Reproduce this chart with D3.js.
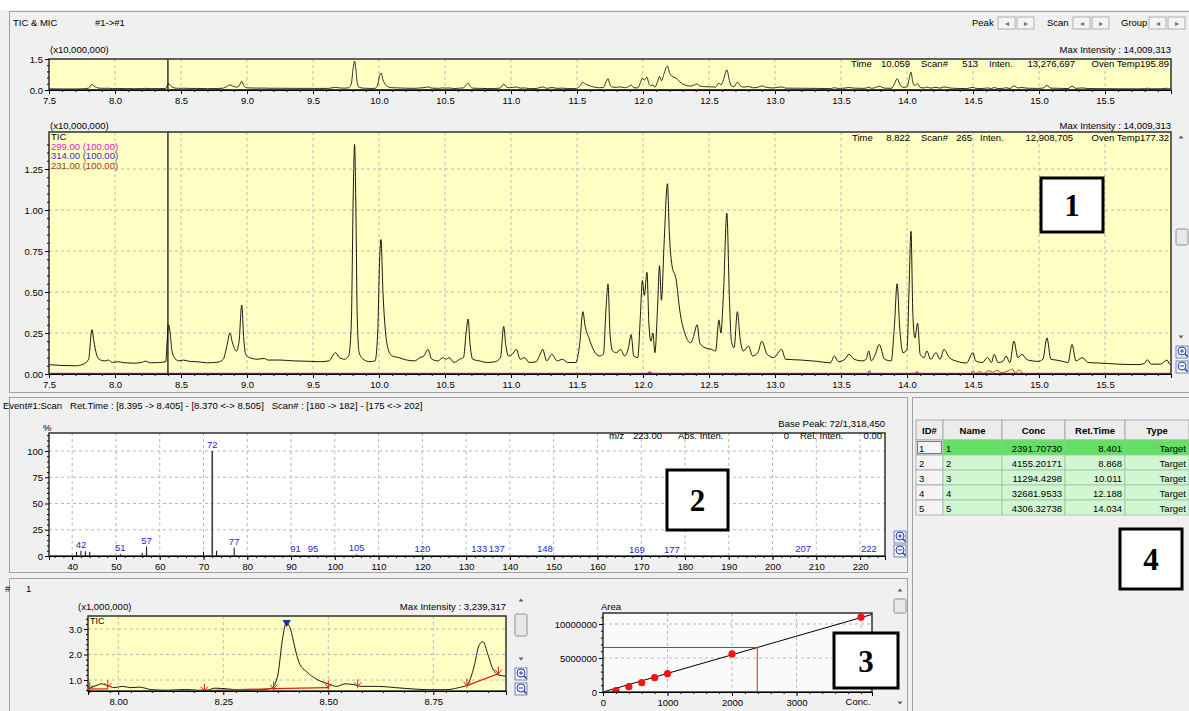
<!DOCTYPE html>
<html>
<head>
<meta charset="utf-8">
<script src="https://cdn.jsdelivr.net/npm/d3@7"></script>
<style>
  body { margin: 0; background: #fff; }
  text { font-family: "Liberation Sans", Arial, sans-serif; }
</style>
</head>
<body>
<div id="graph"></div>
<script>
// ---- chromatogram data (time in min, intensity x10,000,000) ----
var ticTrace = [[7.50,0.057],[7.60,0.052],[7.70,0.050],[7.76,0.060],[7.80,0.09],[7.825,0.27],[7.84,0.20],[7.86,0.12],[7.88,0.09],[7.92,0.08],[7.95,0.085],[7.98,0.07],[8.02,0.075],[8.08,0.068],[8.15,0.066],[8.20,0.07],[8.23,0.078],[8.27,0.068],[8.33,0.07],[8.385,0.075],[8.395,0.20],[8.405,0.30],[8.415,0.27],[8.43,0.15],[8.45,0.10],[8.48,0.08],[8.52,0.085],[8.57,0.076],[8.62,0.075],[8.70,0.068],[8.78,0.072],[8.82,0.09],[8.85,0.18],[8.87,0.25],[8.89,0.19],[8.92,0.14],[8.94,0.20],[8.96,0.42],[8.975,0.22],[8.99,0.12],[9.02,0.10],[9.08,0.09],[9.13,0.095],[9.16,0.085],[9.25,0.085],[9.35,0.08],[9.45,0.078],[9.55,0.075],[9.62,0.08],[9.67,0.13],[9.70,0.10],[9.74,0.09],[9.77,0.11],[9.79,0.30],[9.805,1.10],[9.815,1.40],[9.825,1.00],[9.835,0.35],[9.85,0.13],[9.88,0.09],[9.93,0.075],[9.97,0.08],[9.99,0.25],[10.005,0.70],[10.015,0.82],[10.03,0.50],[10.05,0.25],[10.07,0.15],[10.10,0.11],[10.15,0.10],[10.20,0.087],[10.27,0.08],[10.31,0.10],[10.34,0.11],[10.37,0.15],[10.40,0.09],[10.45,0.08],[10.48,0.10],[10.51,0.09],[10.53,0.10],[10.57,0.07],[10.61,0.09],[10.64,0.10],[10.66,0.25],[10.675,0.335],[10.69,0.18],[10.71,0.09],[10.76,0.08],[10.82,0.07],[10.88,0.075],[10.92,0.10],[10.945,0.29],[10.96,0.18],[10.98,0.11],[11.01,0.12],[11.04,0.15],[11.07,0.09],[11.10,0.10],[11.14,0.07],[11.19,0.075],[11.22,0.12],[11.24,0.15],[11.27,0.08],[11.31,0.12],[11.35,0.08],[11.39,0.09],[11.43,0.07],[11.49,0.07],[11.52,0.18],[11.545,0.38],[11.56,0.30],[11.59,0.22],[11.63,0.14],[11.67,0.11],[11.70,0.12],[11.72,0.40],[11.735,0.55],[11.75,0.25],[11.77,0.14],[11.80,0.13],[11.83,0.15],[11.86,0.11],[11.89,0.16],[11.91,0.24],[11.93,0.11],[11.96,0.10],[11.98,0.35],[11.995,0.57],[12.01,0.48],[12.03,0.62],[12.045,0.30],[12.06,0.20],[12.075,0.25],[12.09,0.13],[12.11,0.40],[12.125,0.66],[12.14,0.45],[12.16,0.80],[12.185,1.16],[12.20,0.85],[12.22,0.66],[12.25,0.58],[12.28,0.38],[12.32,0.24],[12.36,0.19],[12.38,0.22],[12.41,0.30],[12.43,0.19],[12.47,0.16],[12.52,0.15],[12.55,0.14],[12.575,0.33],[12.59,0.25],[12.61,0.50],[12.635,0.98],[12.655,0.45],[12.67,0.20],[12.69,0.16],[12.715,0.38],[12.735,0.22],[12.76,0.14],[12.80,0.17],[12.83,0.11],[12.87,0.13],[12.90,0.20],[12.94,0.12],[12.99,0.10],[13.05,0.15],[13.08,0.09],[13.20,0.085],[13.32,0.077],[13.42,0.068],[13.45,0.11],[13.48,0.075],[13.53,0.09],[13.56,0.12],[13.60,0.09],[13.66,0.08],[13.69,0.09],[13.71,0.14],[13.73,0.08],[13.76,0.12],[13.79,0.18],[13.83,0.09],[13.88,0.08],[13.905,0.30],[13.925,0.55],[13.945,0.28],[13.97,0.13],[14.00,0.15],[14.015,0.50],[14.03,0.87],[14.045,0.35],[14.06,0.22],[14.08,0.31],[14.10,0.12],[14.13,0.10],[14.15,0.14],[14.18,0.09],[14.22,0.13],[14.25,0.09],[14.28,0.15],[14.32,0.10],[14.38,0.077],[14.45,0.067],[14.50,0.13],[14.52,0.08],[14.57,0.07],[14.61,0.10],[14.64,0.07],[14.66,0.12],[14.69,0.07],[14.73,0.08],[14.75,0.11],[14.78,0.07],[14.81,0.20],[14.84,0.10],[14.87,0.12],[14.91,0.087],[14.95,0.08],[14.99,0.077],[15.03,0.09],[15.06,0.22],[15.09,0.09],[15.13,0.085],[15.18,0.077],[15.22,0.07],[15.25,0.18],[15.28,0.08],[15.33,0.10],[15.37,0.07],[15.45,0.067],[15.60,0.06],[15.75,0.057],[15.80,0.065],[15.82,0.087],[15.85,0.06],[15.92,0.06],[15.97,0.085],[15.99,0.06],[16.0,0.058]];
var mic299 = [[7.5,0.003],[12.03,0.003],[12.05,0.012],[12.07,0.003],[14.06,0.003],[14.075,0.012],[14.09,0.003],[16.0,0.003]];
var mic314 = [[7.5,0.001],[13.70,0.001],[13.715,0.02],[13.73,0.001],[16.0,0.001]];
var mic231 = [[7.5,0.002],[14.48,0.002],[14.50,0.02],[14.52,0.002],[14.55,0.015],[14.58,0.003],[14.62,0.02],[14.65,0.01],[14.68,0.022],[14.72,0.008],[14.77,0.02],[14.80,0.03],[14.82,0.005],[14.85,0.025],[14.88,0.003],[16.0,0.002]];
var legendNames = ["TIC", "299.00 (100.00)", "314.00 (100.00)", "231.00 (100.00)"];
var legendColors = ["#000000", "#e020d0", "#3030c0", "#a04010"];
var rtTicks = [7.5, 8.0, 8.5, 9.0, 9.5, 10.0, 10.5, 11.0, 11.5, 12.0, 12.5, 13.0, 13.5, 14.0, 14.5, 15.0, 15.5];
var mainYTicks = [0, 0.25, 0.5, 0.75, 1.0, 1.25];
var cursorTime = 8.401;

// ---- mass spectrum ----
var specMz = [41, 42, 43, 44, 51, 56, 57, 70, 72, 73, 77, 91, 95, 105, 109, 120, 133, 137, 148, 169, 177, 207, 222];
var specRel = [4, 5, 4.5, 4, 2, 3, 9, 4, 100, 5, 8, 1, 0.5, 1.5, 1, 0.6, 0.5, 0.5, 0.6, 0.4, 0.4, 0.6, 0.6];
var specLabels = [42, 51, 57, 72, 77, 91, 95, 105, 120, 133, 137, 148, 169, 177, 207, 222];
var mzTicks = [40, 50, 60, 70, 80, 90, 100, 110, 120, 130, 140, 150, 160, 170, 180, 190, 200, 210, 220];
var relTicks = [0, 25, 50, 75, 100];

// ---- peak #1 integration view (x1,000,000) ----
var peakTrace = [[7.93,0.65],[7.95,0.80],[7.96,0.85],[7.975,0.78],[7.99,0.70],[8.01,0.75],[8.03,0.70],[8.05,0.72],[8.08,0.62],[8.12,0.60],[8.16,0.63],[8.19,0.60],[8.21,0.60],[8.23,0.68],[8.26,0.65],[8.30,0.60],[8.34,0.62],[8.365,0.68],[8.38,1.2],[8.39,2.5],[8.40,3.24],[8.41,3.0],[8.42,2.3],[8.43,1.7],[8.45,1.3],[8.47,1.05],[8.50,0.85],[8.52,0.75],[8.54,0.85],[8.56,0.82],[8.58,0.75],[8.62,0.75],[8.66,0.70],[8.70,0.65],[8.74,0.62],[8.78,0.62],[8.81,0.70],[8.83,0.80],[8.845,1.4],[8.86,2.4],[8.868,2.5],[8.88,2.0],[8.89,1.5],[8.905,1.2],[8.923,1.15]];
var peakMarks = [[7.932,0.65],[7.975,0.72],[8.205,0.58],[8.37,0.66],[8.50,0.70],[8.57,0.75],[8.83,0.78],[8.905,1.25]];
var peakBase = [[[7.932,0.65],[7.975,0.65]], [[8.205,0.58],[8.37,0.66]], [[8.37,0.66],[8.50,0.70]], [[8.83,0.78],[8.905,1.25]]];
var peakTop = [8.401, 3.30];
var peakXTicks = [8.00, 8.25, 8.50, 8.75];
var peakYTicks = [1.0, 2.0, 3.0];

// ---- calibration curve ----
var calConc = [200, 400, 600, 800, 1000, 2000, 4000];
var calArea = [200000, 780000, 1370000, 2100000, 2700000, 5600000, 11000000];
var sampleConc = 2391.7073;
var calXTicks = [0, 1000, 2000, 3000];
var calYTicks = [0, 5000000, 10000000];

// ---- compound table ----
var tblHead = ["ID#", "Name", "Conc", "Ret.Time", "Type"];
var tblId = ["1", "2", "3", "4", "5"];
var tblName = ["1", "2", "3", "4", "5"];
var tblConc = ["2391.70730", "4155.20171", "11294.4298", "32681.9533", "4306.32738"];
var tblRt = ["8.401", "8.868", "10.011", "12.188", "14.034"];
var tblType = ["Target", "Target", "Target", "Target", "Target"];

var yellow = "#ffffc4";
var svg = d3.select("#graph").append("svg").attr("width", 1189).attr("height", 711);
svg.append("rect").attr("width", 1189).attr("height", 711).attr("fill", "#f0f0f0");
svg.append("rect").attr("width", 1189).attr("height", 10).attr("fill", "#ffffff");

function label(x, y, s, anchor, color, size, weight, family) {
    return svg.append("text")
        .attr("x", x).attr("y", y)
        .attr("text-anchor", anchor || "start")
        .attr("fill", color || "#000")
        .attr("font-size", (size || 9.5) + "px")
        .attr("font-weight", weight || "normal")
        .style("font-family", family || null)
        .text(s);
}

function panel(x, y, w, h) {
    svg.append("rect").attr("x", x + 0.5).attr("y", y + 0.5).attr("width", w).attr("height", h)
        .attr("fill", "#f0f0f0").attr("stroke", "#a0a0a0");
}

function numberBox(x, y, w, h, s) {
    svg.append("rect").attr("x", x).attr("y", y).attr("width", w).attr("height", h)
        .attr("fill", "#fff").attr("stroke", "#000").attr("stroke-width", 3);
    label(x + w / 2, y + h / 2 + 11, s, "middle", "#000", 31, "bold", "'Liberation Serif', serif");
}

function zoomIcon(x, y, plus) {
    svg.append("rect").attr("x", x - 6).attr("y", y - 6).attr("width", 12).attr("height", 12)
        .attr("fill", "none").attr("stroke", "#5070b0").attr("stroke-width", 0.8);
    svg.append("circle").attr("cx", x).attr("cy", y - 1).attr("r", 4)
        .attr("fill", "#fff").attr("stroke", "#2040a0").attr("stroke-width", 1);
    svg.append("line").attr("x1", x - 2.2).attr("x2", x + 2.2).attr("y1", y - 1).attr("y2", y - 1).attr("stroke", "#2040a0");
    if (plus) svg.append("line").attr("x1", x).attr("x2", x).attr("y1", y - 3.2).attr("y2", y + 1.2).attr("stroke", "#2040a0");
    svg.append("line").attr("x1", x + 3).attr("x2", x + 5.5).attr("y1", y + 2).attr("y2", y + 4.5).attr("stroke", "#2040a0").attr("stroke-width", 1.5);
}

function arrow(x, y, up) {
    var p = up ? [[x - 2.5, y + 1.5], [x + 2.5, y + 1.5], [x, y - 1.5]] : [[x - 2.5, y - 1.5], [x + 2.5, y - 1.5], [x, y + 1.5]];
    svg.append("path").attr("d", d3.line()(p) + "Z").attr("fill", "#606060");
}

function thumb(x, y, w, h) {
    svg.append("rect").attr("x", x).attr("y", y).attr("width", w).attr("height", h)
        .attr("fill", "#e8e8e8").attr("stroke", "#909090").attr("rx", 1.5);
}

function dashedGrid(g, xs, ys, x, y, x0, x1, y0, y1) {
    g.selectAll(null).data(xs).enter().append("line")
        .attr("x1", function (d) { return x(d); }).attr("x2", function (d) { return x(d); })
        .attr("y1", y0).attr("y2", y1)
        .attr("stroke", "#b8b8b8").attr("stroke-dasharray", "3,3");
    g.selectAll(null).data(ys).enter().append("line")
        .attr("y1", function (d) { return y(d); }).attr("y2", function (d) { return y(d); })
        .attr("x1", x0).attr("x2", x1)
        .attr("stroke", "#b8b8b8").attr("stroke-dasharray", "3,3");
}

function styleAxis(g) {
    g.select(".domain").attr("stroke", "#000");
    g.selectAll(".tick line").attr("stroke", "#000");
    g.selectAll(".tick text").attr("font-size", "9.5px").attr("fill", "#000")
        .style("font-family", "'Liberation Sans', Arial, sans-serif");
}

// ================= panel 1 : TIC & MIC =================
panel(9, 11, 1180, 381);
label(13, 26, "TIC & MIC");
label(95, 26, "#1->#1");
[["Peak", 972], ["Scan", 1047], ["Group", 1121]].forEach(function (b) {
    label(b[1], 26, b[0]);
    var bx = b[1] + (b[0] == "Group" ? 28 : 26);
    [0, 19].forEach(function (o, i) {
        svg.append("rect").attr("x", bx + o).attr("y", 17).attr("width", 17).attr("height", 12)
            .attr("fill", "#f4f4f4").attr("stroke", "#b0b0b0");
        label(bx + o + 8.5, 26, i == 0 ? "◂" : "▸", "middle", "#707070", 8);
    });
});

function chromatogram(top, bottom, yDomainTop, yRangeTop, yTicks, yFmt, yMinor, big) {
    var x = d3.scaleLinear().domain([7.5, 16.0]).range([49, 1171]);
    var y = d3.scaleLinear().domain([0, yDomainTop]).range([bottom, yRangeTop]);
    var g = svg.append("g");
    g.append("rect").attr("x", 49).attr("y", top).attr("width", 1122).attr("height", bottom - top).attr("fill", yellow);
    dashedGrid(g, rtTicks.slice(1), big ? mainYTicks.slice(1) : [], x, y, 49, 1171, top, bottom);
    var clipId = "clip" + top;
    svg.append("clipPath").attr("id", clipId).append("rect")
        .attr("x", 49).attr("y", top).attr("width", 1122).attr("height", bottom - top);
    var line = d3.line().x(function (d) { return x(d[0]); }).y(function (d) { return y(d[1]); }).curve(d3.curveMonotoneX);
    var pg = g.append("g").attr("clip-path", "url(#" + clipId + ")");
    [mic231, mic314].forEach(function (s, i) {
        pg.append("path").attr("d", line(s)).attr("fill", "none")
            .attr("stroke", i == 0 ? legendColors[3] : legendColors[2]).attr("stroke-width", 1);
    });
    pg.append("path").attr("d", line(mic299)).attr("fill", "none").attr("stroke", legendColors[1]).attr("stroke-width", big ? 1.6 : 1);
    pg.append("path").attr("d", line(ticTrace)).attr("fill", "none").attr("stroke", "#000").attr("stroke-width", big ? 0.9 : 0.8);
    pg.append("line").attr("x1", x(cursorTime)).attr("x2", x(cursorTime)).attr("y1", top).attr("y2", bottom)
        .attr("stroke", "#000").attr("stroke-width", 1.2);
    // frame
    g.append("rect").attr("x", 49).attr("y", top).attr("width", 1122).attr("height", bottom - top)
        .attr("fill", "none").attr("stroke", "#303030").attr("stroke-width", 1.5);
    // axes
    var xa = g.append("g").attr("transform", "translate(0," + bottom + ")")
        .call(d3.axisBottom(x).tickValues(rtTicks).tickFormat(d3.format(".1f")).tickSize(4).tickPadding(3));
    styleAxis(xa);
    g.append("g").attr("transform", "translate(0," + bottom + ")")
        .call(d3.axisBottom(x).tickValues(d3.range(76, 160).map(function (d) { return d / 10; })).tickFormat("").tickSize(2))
        .call(function (a) { a.select(".domain").remove(); a.selectAll("line").attr("stroke", "#000"); });
    var ya = g.append("g").attr("transform", "translate(49,0)")
        .call(d3.axisLeft(y).tickValues(yTicks).tickFormat(d3.format(yFmt)).tickSize(4).tickPadding(2));
    styleAxis(ya);
    ya.select(".domain").remove();
    g.append("g").attr("transform", "translate(49,0)")
        .call(d3.axisLeft(y).tickValues(yMinor).tickFormat("").tickSize(2))
        .call(function (a) { a.select(".domain").remove(); a.selectAll("line").attr("stroke", "#000"); });
    return { x: x, y: y };
}

// overview strip
chromatogram(59, 90, 1.5, 59, [0, 1.5], ".1f", [0.3, 0.6, 0.9, 1.2], false);
label(50, 53, "(x10,000,000)", "start", "#000", 9.5);
label(1171, 53, "Max Intensity : 14,009,313", "end");
label(851, 67, "Time"); label(910, 67, "10.059", "end"); label(921, 67, "Scan#");
label(978, 67, "513", "end"); label(989, 67, "Inten."); label(1075, 67, "13,276,697", "end");
label(1169, 67, "Oven Temp195.89", "end");

// main chromatogram
chromatogram(132, 374, 1.5, 128, mainYTicks, ".2f", d3.range(1, 29).map(function (d) { return d * 0.05; }).filter(function (d) { return Math.round(d * 100) % 25 != 0; }), true);
label(50, 129, "(x10,000,000)");
label(1171, 129, "Max Intensity : 14,009,313", "end");
legendNames.forEach(function (n, i) { label(51, 140 + i * 9.7, n, "start", legendColors[i], 9.5); });
label(852, 141, "Time"); label(910, 141, "8.822", "end"); label(921, 141, "Scan#");
label(972, 141, "265", "end"); label(980, 141, "Inten."); label(1073, 141, "12,908,705", "end");
label(1169, 141, "Oven Temp177.32", "end");
arrow(1181, 137, true); thumb(1176, 229, 12, 16); arrow(1181, 337, false);
zoomIcon(1182, 352, true); zoomIcon(1182, 367, false);
numberBox(1041, 178, 62, 54, "1");

// ================= panel 2 : mass spectrum =================
panel(9, 397, 898, 175);
label(3, 409, "Event#1:Scan   Ret.Time : [8.395 -> 8.405] - [8.370 <-> 8.505]   Scan# : [180 -> 182] - [175 <-> 202]").attr("xml:space", "preserve");
(function () {
    var x = d3.scaleLinear().domain([34.7, 225.7]).range([49, 885]);
    var y = d3.scaleLinear().domain([0, 100]).range([556, 451]);
    var g = svg.append("g");
    g.append("rect").attr("x", 49).attr("y", 433).attr("width", 836).attr("height", 123).attr("fill", "#fff");
    dashedGrid(g, mzTicks, relTicks.slice(1), x, y, 49, 885, 433, 556);
    g.selectAll(null).data(specMz).enter().append("line")
        .attr("x1", function (d) { return x(d); }).attr("x2", function (d) { return x(d); })
        .attr("y1", y(0)).attr("y2", function (d, i) { return y(specRel[i]); })
        .attr("stroke", function (d) { return d == 72 ? "#404040" : "#000"; })
        .attr("stroke-width", function (d) { return d == 72 ? 1.6 : 1; });
    g.selectAll(null).data(specLabels).enter().append("text")
        .attr("x", function (d) { return x(d); })
        .attr("y", function (d) { return y(specRel[specMz.indexOf(d)]) - 3; })
        .attr("text-anchor", "middle").attr("fill", "#2828c8").attr("font-size", "9.5px")
        .text(function (d) { return d; });
    g.append("rect").attr("x", 49).attr("y", 433).attr("width", 836).attr("height", 123)
        .attr("fill", "none").attr("stroke", "#303030").attr("stroke-width", 1.5);
    var xa = g.append("g").attr("transform", "translate(0,556)")
        .call(d3.axisBottom(x).tickValues(mzTicks).tickSize(4).tickPadding(3));
    styleAxis(xa);
    g.append("g").attr("transform", "translate(0,556)")
        .call(d3.axisBottom(x).tickValues(d3.range(36, 226, 2)).tickFormat("").tickSize(2))
        .call(function (a) { a.select(".domain").remove(); a.selectAll("line").attr("stroke", "#000"); });
    var ya = g.append("g").attr("transform", "translate(49,0)")
        .call(d3.axisLeft(y).tickValues(relTicks).tickSize(4).tickPadding(2));
    styleAxis(ya); ya.select(".domain").remove();
    g.append("g").attr("transform", "translate(49,0)")
        .call(d3.axisLeft(y).tickValues(d3.range(5, 116, 5).filter(function (d) { return d % 25 != 0; })).tickFormat("").tickSize(2))
        .call(function (a) { a.select(".domain").remove(); a.selectAll("line").attr("stroke", "#000"); });
})();
label(43, 431, "%");
label(885, 427, "Base Peak: 72/1,318,450", "end");
label(609, 439, "m/z"); label(662, 439, "223.00", "end"); label(678, 439, "Abs. Inten.");
label(789, 439, "0", "end"); label(800, 439, "Rel. Inten."); label(882, 439, "0.00", "end");
zoomIcon(900, 537, true); zoomIcon(900, 551, false);
numberBox(667, 470, 61, 60, "2");

// ================= panel 4 : compound table =================
panel(912, 397, 277, 314);
(function () {
    var colX = [916, 943, 1002, 1065, 1125, 1189];
    var top = 420, rowH = 15;
    tblHead.forEach(function (h, i) {
        svg.append("rect").attr("x", colX[i]).attr("y", top).attr("width", colX[i + 1] - colX[i]).attr("height", 20)
            .attr("fill", "#ececec").attr("stroke", "#a8a8a8");
        label((colX[i] + colX[i + 1]) / 2, top + 14, h, "middle", "#000", 9.5, "bold");
    });
    var cols = [tblId, tblName, tblConc, tblRt, tblType];
    tblId.forEach(function (r, j) {
        var y0 = top + 20 + j * rowH;
        cols.forEach(function (c, i) {
            var fill = i == 0 ? "#f4f4f4" : (j == 0 ? "#62e062" : "#d2f6d2");
            svg.append("rect").attr("x", colX[i]).attr("y", y0).attr("width", colX[i + 1] - colX[i]).attr("height", rowH)
                .attr("fill", fill).attr("stroke", i == 0 ? "#a0a0a0" : "#9ac89a").attr("stroke-width", 0.8);
            var right = i >= 2;
            label(right ? colX[i + 1] - 3 : colX[i] + 3, y0 + 11.5, c[j], right ? "end" : "start", "#000", 9.5);
        });
        if (j == 0) svg.append("rect").attr("x", colX[0] + 1.5).attr("y", y0 + 1.5).attr("width", colX[1] - colX[0] - 3).attr("height", rowH - 3)
            .attr("fill", "none").attr("stroke", "#000").attr("stroke-dasharray", "1,1");
    });
})();
numberBox(1120, 529, 62, 60, "4");

// ================= panel 3 : peak + calibration =================
panel(9, 578, 898, 133);
label(5, 592, "#"); label(26, 592, "1");
(function () {
    var x = d3.scaleLinear().domain([7.928, 8.923]).range([88, 506]);
    var y = d3.scaleLinear().domain([0, 3]).range([705.5, 629]);
    var g = svg.append("g");
    g.append("rect").attr("x", 88).attr("y", 616).attr("width", 418).attr("height", 75).attr("fill", yellow);
    dashedGrid(g, peakXTicks, peakYTicks, x, y, 88, 506, 616, 691);
    svg.append("clipPath").attr("id", "clipPk").append("rect").attr("x", 88).attr("y", 616).attr("width", 418).attr("height", 75);
    var pg = g.append("g").attr("clip-path", "url(#clipPk)");
    var line = d3.line().x(function (d) { return x(d[0]); }).y(function (d) { return y(d[1]); });
    pg.append("path").attr("d", line.curve(d3.curveMonotoneX)(peakTrace)).attr("fill", "none").attr("stroke", "#000").attr("stroke-width", 0.9);
    line.curve(d3.curveLinear);
    peakBase.forEach(function (s) {
        pg.append("path").attr("d", line(s)).attr("fill", "none").attr("stroke", "#e02010").attr("stroke-width", 1.2);
    });
    peakMarks.forEach(function (m) {
        var px = x(m[0]), py = y(m[1]);
        pg.append("path").attr("d", "M" + px + "," + (py - 7) + "V" + (py + 2) + "M" + (px - 3.5) + "," + (py - 4) + "L" + px + "," + py + "L" + (px + 3.5) + "," + (py - 4))
            .attr("fill", "none").attr("stroke", "#e02010").attr("stroke-width", 1);
    });
    pg.append("path").attr("d", d3.symbol(d3.symbolTriangle, 30)()).attr("transform", "translate(" + x(peakTop[0]) + "," + (y(peakTop[1]) + 1) + ") rotate(180)")
        .attr("fill", "#1830a0");
    g.append("rect").attr("x", 88).attr("y", 616).attr("width", 418).attr("height", 75)
        .attr("fill", "none").attr("stroke", "#303030").attr("stroke-width", 1.5);
    var xa = g.append("g").attr("transform", "translate(0,691)")
        .call(d3.axisBottom(x).tickValues(peakXTicks).tickFormat(d3.format(".2f")).tickSize(4).tickPadding(3));
    styleAxis(xa);
    g.append("g").attr("transform", "translate(0,691)")
        .call(d3.axisBottom(x).tickValues(d3.range(793, 893, 5).map(function (d) { return d / 100; })).tickFormat("").tickSize(2))
        .call(function (a) { a.select(".domain").remove(); a.selectAll("line").attr("stroke", "#000"); });
    var ya = g.append("g").attr("transform", "translate(88,0)")
        .call(d3.axisLeft(y).tickValues(peakYTicks).tickFormat(d3.format(".1f")).tickSize(4).tickPadding(2));
    styleAxis(ya); ya.select(".domain").remove();
    g.append("g").attr("transform", "translate(88,0)")
        .call(d3.axisLeft(y).tickValues([0.6, 0.8, 1.2, 1.4, 1.6, 1.8, 2.2, 2.4, 2.6, 2.8, 3.2, 3.4]).tickFormat("").tickSize(2))
        .call(function (a) { a.select(".domain").remove(); a.selectAll("line").attr("stroke", "#000"); });
})();
label(78, 610, "(x1,000,000)");
label(506, 610, "Max Intensity : 3,239,317", "end");
label(90, 624, "TIC", "start", "#000", 9);
arrow(521, 600, true); thumb(515, 614, 12, 22); arrow(521, 659, false);
zoomIcon(521, 674, true); zoomIcon(521, 689, false);

(function () {
    var x = d3.scaleLinear().domain([0, 4170]).range([603, 872]);
    var y = d3.scaleLinear().domain([0, 10000000]).range([692, 624]);
    var g = svg.append("g");
    g.append("rect").attr("x", 603).attr("y", 613).attr("width", 269).attr("height", 79).attr("fill", "#fafafa");
    dashedGrid(g, [1000, 2000, 3000, 4000], [5000000, 10000000], x, y, 603, 872, 613, 692);
    // least-squares fit through the origin
    var slope = d3.sum(calConc, function (c, i) { return c * calArea[i]; }) / d3.sum(calConc, function (c) { return c * c; });
    var sampleArea = slope * sampleConc;
    svg.append("clipPath").attr("id", "clipCal").append("rect").attr("x", 603).attr("y", 613).attr("width", 269).attr("height", 79);
    var cg = g.append("g").attr("clip-path", "url(#clipCal)");
    cg.append("line").attr("x1", x(0)).attr("y1", y(0)).attr("x2", x(4170)).attr("y2", y(slope * 4170))
        .attr("stroke", "#000").attr("stroke-width", 1);
    cg.append("path").attr("d", "M" + x(0) + "," + y(sampleArea) + "H" + x(sampleConc) + "V" + y(0))
        .attr("fill", "none").attr("stroke", "#e02020").attr("stroke-width", 1);
    cg.selectAll(null).data(calConc).enter().append("circle")
        .attr("cx", function (d) { return x(d); }).attr("cy", function (d, i) { return y(calArea[i]); })
        .attr("r", 3.6).attr("fill", "#ff1010");
    g.append("rect").attr("x", 603).attr("y", 613).attr("width", 269).attr("height", 79)
        .attr("fill", "none").attr("stroke", "#303030").attr("stroke-width", 1.5);
    var xa = g.append("g").attr("transform", "translate(0,692)")
        .call(d3.axisBottom(x).tickValues(calXTicks).tickFormat(d3.format("d")).tickSize(4).tickPadding(3));
    styleAxis(xa);
    g.append("g").attr("transform", "translate(0,692)")
        .call(d3.axisBottom(x).tickValues(d3.range(200, 4170, 200)).tickFormat("").tickSize(2))
        .call(function (a) { a.select(".domain").remove(); a.selectAll("line").attr("stroke", "#000"); });
    var ya = g.append("g").attr("transform", "translate(603,0)")
        .call(d3.axisLeft(y).tickValues(calYTicks).tickFormat(d3.format("d")).tickSize(4).tickPadding(2));
    styleAxis(ya); ya.select(".domain").remove();
    g.append("g").attr("transform", "translate(603,0)")
        .call(d3.axisLeft(y).tickValues(d3.range(1000000, 11500000, 1000000).filter(function (d) { return d % 5000000 != 0; })).tickFormat("").tickSize(2))
        .call(function (a) { a.select(".domain").remove(); a.selectAll("line").attr("stroke", "#000"); });
    label(x(4000) - 3, 705, "Conc.", "middle");
})();
label(601, 610, "Area");
arrow(900, 590, true); thumb(894, 599, 12, 14); arrow(900, 703, false);
numberBox(834, 633, 64, 55, "3");
</script>
</body>
</html>
